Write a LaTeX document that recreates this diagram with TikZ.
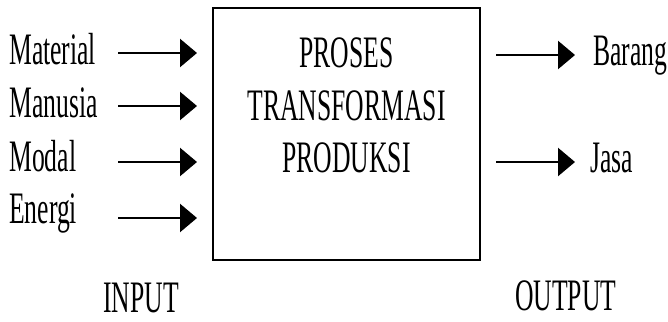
\documentclass[tikz,border=0pt]{standalone}
\usepackage{fontspec}
\setmainfont[FakeStretch=0.57]{Liberation Serif}
\usetikzlibrary{arrows.meta}
\begin{document}
\begin{tikzpicture}[x=1pt,y=-1pt,
  lbl/.style={inner sep=0pt,anchor=base west,font=\fontsize{45}{53}\selectfont},
  flow/.style={line width=2.5pt,-{Triangle[length=17pt,width=28pt]}},
  procbox/.style={draw,line width=2pt}]
\useasboundingbox (0,0) rectangle (668,321);
% central box
\draw[procbox] (213,8) rectangle (480,260);
\node[lbl,anchor=base] (p1) at (346.5,67) {PROSES};
\node[lbl,anchor=base] (p2) at (346.5,120) {TRANSFORMASI};
\node[lbl,anchor=base] (p3) at (346.5,172) {PRODUKSI};
% inputs
\node[lbl] (mat) at (9,64) {Material};
\node[lbl] (man) at (9,117) {Manusia};
\node[lbl] (mod) at (9,171) {Modal};
\node[lbl] (ene) at (9,223) {Energi};
\coordinate (i1s) at (118,53);  \coordinate (i1e) at (197,53);
\coordinate (i2s) at (118,106); \coordinate (i2e) at (197,106);
\coordinate (i3s) at (118,162); \coordinate (i3e) at (197,162);
\coordinate (i4s) at (118,218); \coordinate (i4e) at (197,218);
\draw[flow] (i1s) -- (i1e);
\draw[flow] (i2s) -- (i2e);
\draw[flow] (i3s) -- (i3e);
\draw[flow] (i4s) -- (i4e);
% outputs
\coordinate (o1s) at (496,55);  \coordinate (o1e) at (575,55);
\coordinate (o2s) at (496,162); \coordinate (o2e) at (575,162);
\draw[flow] (o1s) -- (o1e);
\draw[flow] (o2s) -- (o2e);
\node[lbl] (bar) at (593,65) {Barang};
\node[lbl] (jas) at (590,172) {Jasa};
% captions
\node[lbl] (inp) at (103,312) {INPUT};
\node[lbl] (out) at (515,310) {OUTPUT};
\end{tikzpicture}
\end{document}
